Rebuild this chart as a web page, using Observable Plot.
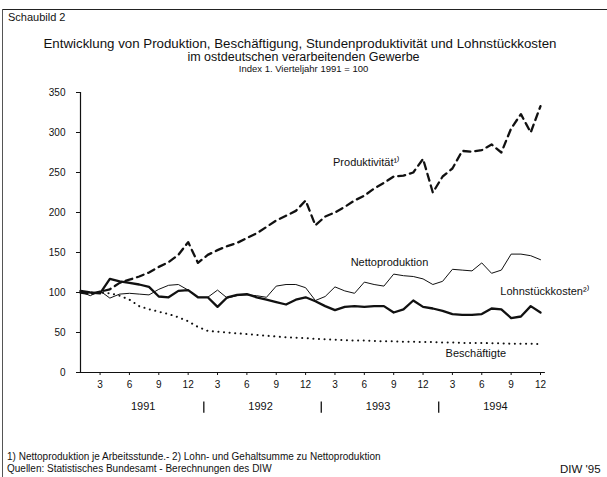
<!DOCTYPE html>
<html><head><meta charset="utf-8">
<script src="https://cdn.jsdelivr.net/npm/d3@7"></script>
<script src="https://cdn.jsdelivr.net/npm/@observablehq/plot@0.6"></script>
<style>
body{margin:0;background:#fff;font-family:"Liberation Sans",Arial,sans-serif;color:#111}
#wrap{position:relative;width:607px;height:477px;overflow:hidden;background:#fff}
.t{position:absolute;white-space:nowrap;line-height:1}
#chart{position:absolute;left:0;top:80px}
</style></head><body>
<div id="wrap">
  <div style="position:absolute;left:2px;top:9px;width:610px;height:0;border-top:1px solid #222"></div>
  <div style="position:absolute;left:2px;top:9px;width:0;height:470px;border-left:1px solid #555"></div>
  <div class="t" style="left:8px;top:12px;font-size:11px">Schaubild 2</div>
  <div class="t" style="left:0;width:600px;text-align:center;top:37px;font-size:13.3px">Entwicklung von Produktion, Beschäftigung, Stundenproduktivität und Lohnstückkosten</div>
  <div class="t" style="left:0;width:607px;text-align:center;top:51px;font-size:12.5px">im ostdeutschen verarbeitenden Gewerbe</div>
  <div class="t" style="left:0;width:607px;text-align:center;top:64px;font-size:9.5px">Index 1. Vierteljahr 1991 = 100</div>
  <div id="chart"></div>
  <div class="t" style="left:7px;top:452px;font-size:10px">1) Nettoproduktion je Arbeitsstunde.- 2) Lohn- und Gehaltsumme zu Nettoproduktion</div>
  <div class="t" style="left:7px;top:464px;font-size:10px">Quellen: Statistisches Bundesamt - Berechnungen des DIW</div>
  <div class="t" style="left:560px;top:464px;font-size:11.5px">DIW '95</div>
</div>
<script>
// Monthly index values, Jan 1991 .. Dec 1994 (1. Vierteljahr 1991 = 100)
const months = d3.range(1, 49);
const produktivitaet = [100, 98, 101, 104, 112, 116, 120, 125, 132, 138, 147, 163,
  137, 147, 153, 158, 162, 168, 174, 182, 190, 196, 202, 215,
  184, 195, 200, 207, 215, 221, 230, 237, 245, 246, 250, 267,
  225, 245, 255, 277, 276, 278, 285, 275, 305, 323, 300, 333];
const nettoproduktion = [101, 96, 102, 93, 98, 99, 98, 97, 104, 109, 110, 103,
  94, 94, 103, 93, 96, 97, 96, 94, 108, 110, 110, 106,
  90, 95, 107, 102, 99, 113, 110, 108, 123, 121, 120, 117,
  110, 114, 129, 128, 127, 137, 124, 128, 148, 148, 146, 141];
const lohnstueckkosten = [102, 100, 99, 117, 114, 112, 110, 107, 95, 94, 102, 103,
  94, 94, 82, 94, 97, 98, 94, 91, 88, 85, 91, 94,
  89, 83, 78, 82, 83, 82, 83, 83, 75, 79, 90, 82,
  80, 77, 73, 72, 72, 73, 80, 79, 68, 70, 83, 75];
const beschaeftigte = [100, 100, 100, 99, 96, 91, 83, 79, 76, 73, 69, 64,
  57, 52, 51, 50, 49, 48, 47, 46, 45, 44, 43.5, 43,
  42, 41.5, 41, 40.5, 40, 40, 39.5, 39, 39, 38.5, 38.5, 38,
  38, 37.5, 37.5, 37, 37, 37, 36.5, 36.5, 36, 36, 36, 35.5];

const yTicks = [0, 50, 100, 150, 200, 250, 300, 350];
const monthTicks = [3, 6, 9, 12, 15, 18, 21, 24, 27, 30, 33, 36, 39, 42, 45, 48];
const monthTickLabels = ["3","6","9","12","3","6","9","12","3","6","9","12","3","6","9","12"];
const yearLabels = ["1991", "1992", "1993", "1994"];
const seriesLabels = ["Produktivität¹⁾", "Nettoproduktion", "Lohnstückkosten²⁾", "Beschäftigte"];

const rows = (arr) => months.map((m, i) => ({m, v: arr[i]}));

// label anchors (month, value) for the in-chart annotations
const labelPos = [[26.8, 262], [28.6, 137], [43.9, 101], [38.3, 24]];

const font = "Liberation Sans, Arial, sans-serif";
const chart = Plot.plot({
  width: 607, height: 342,
  marginLeft: 80, marginRight: 67, marginTop: 12, marginBottom: 50,
  style: {fontFamily: font, fontSize: "10px", color: "#111", background: "transparent", overflow: "visible"},
  x: {domain: [1, 48], axis: null},
  y: {domain: [0, 350], axis: null},
  marks: [
    Plot.ruleX([1], {y1: 0, y2: 350, stroke: "#111", strokeWidth: 1.2}),
    Plot.ruleY([0], {x1: 1, x2: 48.5, stroke: "#111", strokeWidth: 1.2}),
    Plot.axisY({ticks: yTicks, tickSize: 4, tickPadding: 11, label: null, fontSize: 10, stroke: "#111"}),
    Plot.axisX({ticks: monthTicks, tickSize: 3, tickPadding: 5, label: null, fontSize: 10,
      tickFormat: d => monthTickLabels[monthTicks.indexOf(d)]}),
    Plot.text(yearLabels, {x: (d, i) => i * 12 + 7.4, frameAnchor: "bottom", dy: 37, text: d => d, fontSize: 11, fill: "#111"}),
    // year separators below the month labels
    Plot.ruleX([1, 2, 3], {x: d => d * 12 + 1.6, y1: -37, y2: -51, stroke: "#111", strokeWidth: 1.3}),
    Plot.line(rows(beschaeftigte), {x: "m", y: "v", stroke: "#111", strokeWidth: 2, strokeDasharray: "0.1,5.5", strokeLinecap: "round"}),
    Plot.line(rows(nettoproduktion), {x: "m", y: "v", stroke: "#111", strokeWidth: 1}),
    Plot.line(rows(lohnstueckkosten), {x: "m", y: "v", stroke: "#111", strokeWidth: 2.3}),
    Plot.line(rows(produktivitaet), {x: "m", y: "v", stroke: "#111", strokeWidth: 2.3, strokeDasharray: "7,5"}),
    Plot.text(seriesLabels, {x: (d, i) => labelPos[i][0], y: (d, i) => labelPos[i][1], text: d => d,
      textAnchor: "start", fontSize: 11, fill: "#111"})
  ]
});
document.getElementById("chart").appendChild(chart);
</script>
</body></html>
